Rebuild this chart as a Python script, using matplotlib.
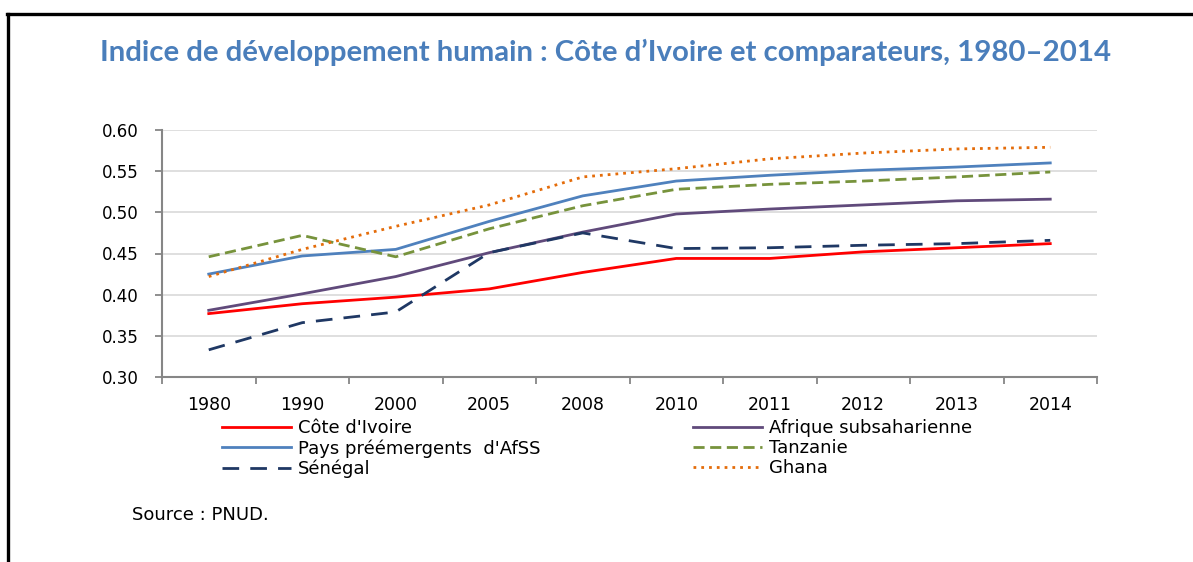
import matplotlib
matplotlib.use("Agg")
import matplotlib.pyplot as plt
from matplotlib.lines import Line2D

# Données (IDH)
annees = ["1980", "1990", "2000", "2005", "2008", "2010", "2011", "2012", "2013", "2014"]
cote_ivoire = [0.377, 0.389, 0.397, 0.407, 0.427, 0.444, 0.444, 0.452, 0.457, 0.462]
afrique_ss = [0.381, 0.401, 0.422, 0.451, 0.476, 0.498, 0.504, 0.509, 0.514, 0.516]
pays_preemergents = [0.425, 0.447, 0.455, 0.489, 0.520, 0.538, 0.545, 0.551, 0.555, 0.560]
tanzanie = [0.446, 0.472, 0.446, 0.480, 0.508, 0.528, 0.534, 0.538, 0.543, 0.549]
senegal = [0.333, 0.366, 0.379, 0.451, 0.475, 0.456, 0.457, 0.460, 0.462, 0.466]
ghana = [0.422, 0.455, 0.483, 0.509, 0.543, 0.553, 0.565, 0.572, 0.577, 0.579]

yticks = [0.30, 0.35, 0.40, 0.45, 0.50, 0.55, 0.60]

W, H = 1193, 562
fig = plt.figure(figsize=(W / 100, H / 100), dpi=100)
ax = fig.add_axes([162 / W, 1 - 377 / H, (1097 - 162) / W, (377 - 130) / H])

x = list(range(len(annees)))
lw = 2.0
l_ci, = ax.plot(x, cote_ivoire, color="#FF0000", lw=lw, label="Côte d'Ivoire")
l_as, = ax.plot(x, afrique_ss, color="#604A7B", lw=lw, label="Afrique subsaharienne")
l_pp, = ax.plot(x, pays_preemergents, color="#4F81BD", lw=lw, label="Pays préémergents  d'AfSS")
l_tz, = ax.plot(x, tanzanie, color="#77933C", lw=lw, dashes=(4, 2), label="Tanzanie")
l_sn, = ax.plot(x, senegal, color="#1F3864", lw=lw, dashes=(6, 4), label="Sénégal")
l_gh, = ax.plot(x, ghana, color="#E46C0A", lw=lw, dashes=(1, 1.8), label="Ghana")

ax.set_xlim(-0.5, len(annees) - 0.5)
ax.set_ylim(0.30, 0.60)
ax.set_yticks(yticks)
ax.set_yticklabels([f"{v:.2f}" for v in yticks])
ax.set_xticks(x)
ax.set_xticklabels(annees)
ax.set_xticks([i - 0.5 for i in range(len(annees) + 1)], minor=True)

ax.grid(axis="y", color="#D9D9D9", lw=1.2)
ax.set_axisbelow(True)
for s in ["top", "right"]:
    ax.spines[s].set_visible(False)
for s in ["left", "bottom"]:
    ax.spines[s].set_color("#868686")
    ax.spines[s].set_linewidth(1.5)

ax.tick_params(axis="y", direction="out", length=5, width=1.3, color="#868686",
               pad=12, labelsize=12, labelcolor="#000000")
ax.tick_params(axis="x", which="major", length=0, pad=14, labelsize=12.5)
ax.tick_params(axis="x", which="minor", direction="out", length=5, width=1.3, color="#868686")

fig.suptitle("Indice de développement humain : Côte d’Ivoire et comparateurs, 1980–2014",
             x=605 / W, y=1 - 52 / H, va="center", fontsize=21.2, fontweight="bold",
             color="#4A7EBB", family=["Lato", "DejaVu Sans"])

leg_kw = dict(loc="upper left", frameon=False, fontsize=13, borderpad=0, borderaxespad=0,
              handlelength=3.8, handletextpad=0.4, labelspacing=0.12)
leg1 = fig.legend(handles=[l_ci, l_pp, l_sn], bbox_to_anchor=(222 / W, 1 - 419 / H), **leg_kw)
leg2 = fig.legend(handles=[l_as, l_tz, l_gh], bbox_to_anchor=(693 / W, 1 - 419 / H), **leg_kw)

fig.text(132 / W, 1 - 515 / H, "Source : PNUD.", fontsize=13, va="center", ha="left")

# cadre noir (haut et gauche)
fig.add_artist(Line2D([7 / W, 1], [1 - 14 / H, 1 - 14 / H], color="black", lw=2.4,
                      transform=fig.transFigure))
fig.add_artist(Line2D([8 / W, 8 / W], [0, 1 - 14 / H], color="black", lw=2.4,
                      transform=fig.transFigure))

fig.savefig("out.png", dpi=100)
